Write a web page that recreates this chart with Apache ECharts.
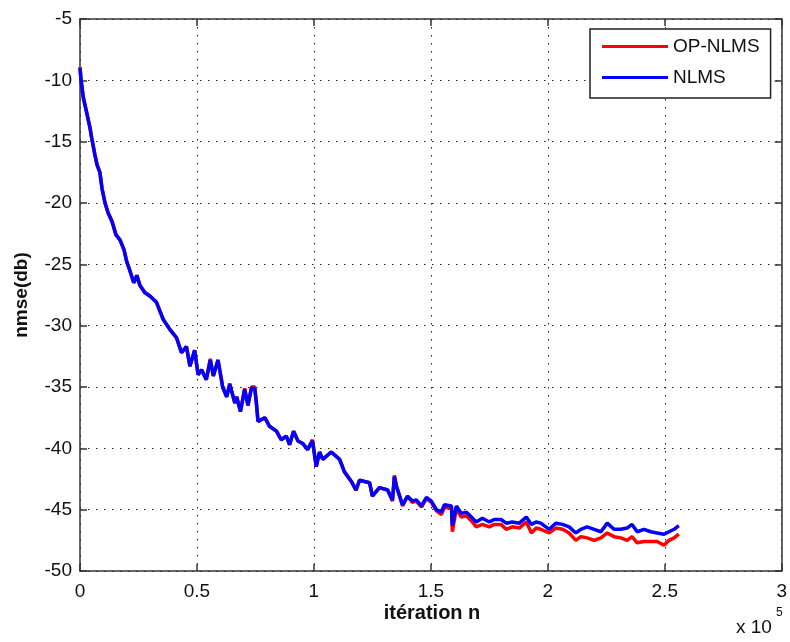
<!DOCTYPE html>
<html>
<head>
<meta charset="utf-8">
<script src="https://cdn.jsdelivr.net/npm/echarts@6/dist/echarts.min.js"></script>
<style>
html,body{margin:0;padding:0;background:#fff;}
#chart{width:790px;height:642px;}
</style>
</head>
<body>
<div id="chart"></div>
<script>
// iteration (x 10^5)
const iterations = [0,0.004,0.014,0.026,0.043,0.05,0.064,0.073,0.085,0.094,0.107,0.12,0.137,0.154,0.171,0.188,0.2,0.213,0.23,0.243,0.256,0.277,0.3,0.327,0.356,0.384,0.413,0.434,0.455,0.47,0.49,0.505,0.52,0.54,0.557,0.57,0.59,0.6,0.61,0.627,0.64,0.662,0.67,0.686,0.704,0.718,0.733,0.747,0.754,0.761,0.79,0.81,0.84,0.86,0.882,0.896,0.913,0.932,0.952,0.973,0.994,1.01,1.024,1.038,1.074,1.11,1.13,1.16,1.18,1.195,1.238,1.25,1.28,1.315,1.336,1.344,1.353,1.379,1.4,1.421,1.438,1.46,1.481,1.502,1.524,1.545,1.558,1.588,1.592,1.609,1.63,1.652,1.673,1.694,1.72,1.75,1.771,1.8,1.822,1.848,1.878,1.908,1.93,1.95,1.97,2.006,2.034,2.063,2.091,2.12,2.141,2.168,2.198,2.227,2.254,2.283,2.312,2.339,2.36,2.382,2.411,2.44,2.467,2.497,2.518,2.54,2.56];

const nlms = [-9.0,-9.9,-11.4,-12.4,-13.9,-14.7,-16.1,-16.9,-17.5,-18.8,-20.0,-20.8,-21.5,-22.6,-23.0,-23.8,-24.8,-25.5,-26.5,-25.9,-26.7,-27.3,-27.6,-28.1,-29.5,-30.3,-31.0,-32.2,-31.7,-33.3,-32.0,-34.0,-33.6,-34.4,-32.8,-34.1,-32.8,-33.9,-35.0,-35.8,-34.8,-36.3,-35.8,-37.0,-35.2,-36.5,-35.1,-35.1,-36.3,-37.8,-37.5,-38.2,-38.6,-39.3,-39.0,-39.7,-38.6,-39.4,-39.6,-40.1,-39.4,-41.5,-40.3,-40.9,-40.3,-40.9,-41.9,-42.7,-43.4,-42.6,-42.8,-43.9,-43.2,-43.4,-44.2,-42.3,-43.1,-44.6,-43.9,-44.3,-44.2,-44.7,-44.0,-44.3,-45.0,-45.2,-44.6,-44.7,-46.3,-44.7,-45.3,-45.2,-45.6,-46.0,-45.7,-46.0,-45.8,-45.8,-46.1,-46.0,-46.1,-45.6,-46.2,-46.0,-46.1,-46.6,-46.1,-46.2,-46.4,-46.9,-46.6,-46.4,-46.6,-46.8,-46.1,-46.6,-46.6,-46.5,-46.2,-46.8,-46.6,-46.8,-46.9,-47.0,-46.8,-46.6,-46.3];

const opNlms = [-8.9,-9.8,-11.4,-12.4,-13.9,-14.7,-16.1,-16.9,-17.5,-18.8,-20.0,-20.8,-21.5,-22.6,-23.0,-23.8,-24.8,-25.5,-26.5,-25.9,-26.7,-27.3,-27.6,-28.1,-29.5,-30.3,-31.0,-32.2,-31.7,-33.3,-32.0,-34.0,-33.6,-34.4,-32.7,-34.1,-32.8,-33.9,-35.0,-35.8,-34.7,-36.3,-35.8,-37.0,-35.1,-36.5,-35.0,-35.0,-36.3,-37.8,-37.5,-38.2,-38.6,-39.3,-39.0,-39.7,-38.6,-39.4,-39.6,-40.1,-39.3,-41.5,-40.3,-40.9,-40.3,-40.9,-41.9,-42.7,-43.4,-42.6,-42.8,-43.9,-43.2,-43.4,-44.3,-42.2,-43.1,-44.7,-43.9,-44.4,-44.3,-44.8,-44.1,-44.4,-45.1,-45.4,-44.8,-44.9,-46.8,-44.9,-45.6,-45.5,-45.9,-46.4,-46.2,-46.4,-46.2,-46.2,-46.6,-46.4,-46.5,-46.0,-46.9,-46.5,-46.6,-46.9,-46.5,-46.6,-46.9,-47.5,-47.2,-47.3,-47.5,-47.3,-46.9,-47.2,-47.3,-47.5,-47.2,-47.7,-47.6,-47.6,-47.6,-47.9,-47.5,-47.3,-47.0];

const xTicks = {min: 0, max: 3, step: 0.5};
const yTicks = {min: -50, max: -5, step: 5};

const chart = echarts.init(document.getElementById('chart'), null, {renderer: 'canvas'});
const FONT = 'Liberation Sans, Arial, sans-serif';
const gridLine = {show: true, lineStyle: {color: '#222', width: 1, type: [1.5, 6.5]}};
const axisLine = {show: true, onZero: false, lineStyle: {color: '#333', width: 1.5}};
const tick = {show: true, inside: true, length: 7, lineStyle: {color: '#333', width: 1.5}};

chart.setOption({
  animation: false,
  backgroundColor: '#fff',
  grid: {left: 80, right: 7, top: 19, bottom: 71, containLabel: false},
  legend: {
    orient: 'vertical',
    left: 590, top: 29,
    padding: [8, 11, 11, 12],
    icon: 'rect',
    itemWidth: 66, itemHeight: 3, itemGap: 12,
    backgroundColor: '#fff', borderColor: '#222', borderWidth: 1.5,
    textStyle: {fontFamily: FONT, fontSize: 19, color: '#111'},
    data: ['OP-NLMS', 'NLMS']
  },
  xAxis: [{
    type: 'value', min: xTicks.min, max: xTicks.max, interval: xTicks.step,
    axisLine: axisLine, axisTick: tick, splitLine: gridLine,
    axisLabel: {margin: 11, fontFamily: FONT, fontSize: 19, color: '#111'}
  }, {
    type: 'value', position: 'top', min: xTicks.min, max: xTicks.max, interval: xTicks.step,
    axisLine: axisLine, axisTick: tick, splitLine: {show: false}, axisLabel: {show: false}
  }],
  yAxis: [{
    type: 'value', min: yTicks.min, max: yTicks.max, interval: yTicks.step,
    axisLine: axisLine, axisTick: tick, splitLine: gridLine,
    axisLabel: {margin: 8, fontFamily: FONT, fontSize: 19, color: '#111'}
  }, {
    type: 'value', position: 'right', min: yTicks.min, max: yTicks.max, interval: yTicks.step,
    axisLine: axisLine, axisTick: tick, splitLine: {show: false}, axisLabel: {show: false}
  }],
  series: [{
    name: 'OP-NLMS', type: 'line', symbol: 'none', showSymbol: false,
    lineStyle: {color: '#ff0000', width: 3.5}, itemStyle: {color: '#ff0000'},
    data: iterations.map((x, i) => [x, opNlms[i]])
  }, {
    name: 'NLMS', type: 'line', symbol: 'none', showSymbol: false,
    lineStyle: {color: '#0000ff', width: 3.5}, itemStyle: {color: '#0000ff'},
    data: iterations.map((x, i) => [x, nlms[i]])
  }],
  graphic: [
    {type: 'text', x: 432, y: 613, style: {text: 'itération n', textAlign: 'center', textVerticalAlign: 'middle', font: 'bold 20px ' + FONT, fill: '#111'}},
    {type: 'text', rotation: Math.PI / 2, x: 22, y: 295, style: {text: 'nmse(db)', textAlign: 'center', textVerticalAlign: 'middle', font: 'bold 19px ' + FONT, fill: '#111'}},
    {type: 'text', x: 736, y: 628, style: {text: 'x 10', textAlign: 'left', textVerticalAlign: 'middle', font: '19px ' + FONT, fill: '#111'}},
    {type: 'text', x: 776, y: 613, style: {text: '5', textAlign: 'left', textVerticalAlign: 'middle', font: '12px ' + FONT, fill: '#111'}}
  ]
});
</script>
</body>
</html>
